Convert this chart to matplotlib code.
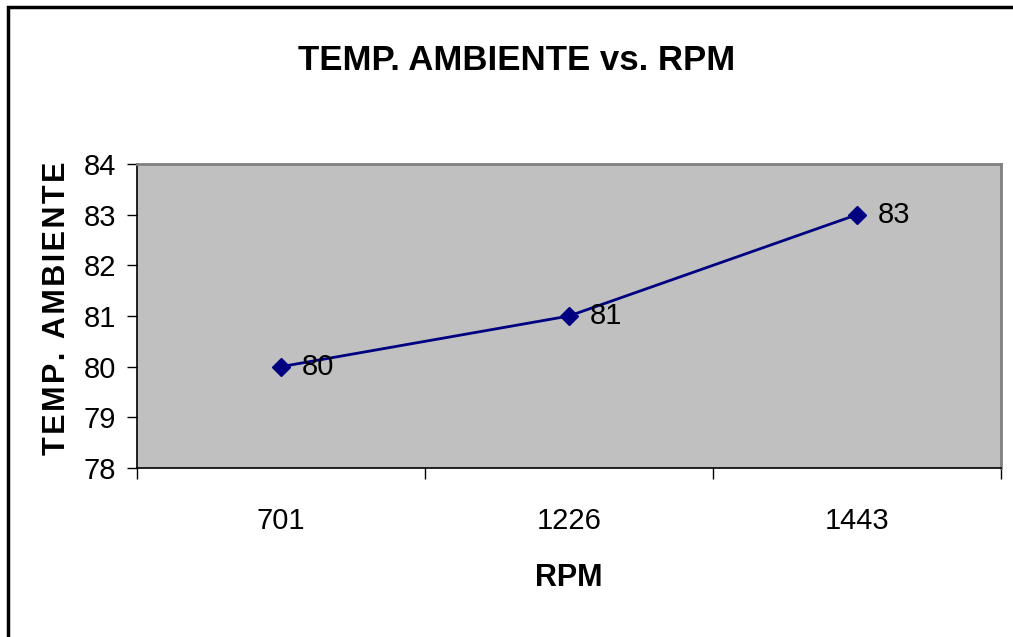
import matplotlib.pyplot as plt
from matplotlib.patches import Rectangle

# datos
rpm = ['701', '1226', '1443']
temp_ambiente = [80, 81, 83]

plt.rcParams['font.family'] = ['Liberation Sans', 'DejaVu Sans']

fig = plt.figure(figsize=(10.13, 6.37), dpi=100)
ax = fig.add_axes([137 / 1013, 1 - 468 / 637, (1001 - 137) / 1013, (468 - 164) / 637])
ax.set_facecolor('#C0C0C0')

x = list(range(len(rpm)))
ax.plot(x, temp_ambiente, color='#000080', lw=2, marker='D', ms=9, mfc='#000080', mec='#000080')
for xi, v in zip(x, temp_ambiente):
    ax.annotate(str(v), (xi, v), xytext=(15, 0), textcoords='offset points',
                ha='left', va='center', fontsize=21)

ax.set_xlim(-0.5, len(rpm) - 0.5)
ax.set_ylim(78, 84)
ax.set_yticks(range(78, 85))
ax.tick_params(axis='y', direction='out', length=7, width=1, labelsize=21, pad=8)

# marcas del eje x entre categorias
ax.set_xticks(x)
ax.set_xticklabels(rpm)
ax.set_xticks([i - 0.5 for i in range(len(rpm) + 1)], minor=True)
ax.tick_params(axis='x', which='major', length=0, labelsize=21, pad=28)
ax.tick_params(axis='x', which='minor', direction='out', length=8, width=1)

for s in ['top', 'right']:
    ax.spines[s].set_color('#808080')
    ax.spines[s].set_linewidth(2)
for s in ['left', 'bottom']:
    ax.spines[s].set_color('black')
    ax.spines[s].set_linewidth(1.2)

fig.text(517 / 1013, 1 - 60 / 637, 'TEMP. AMBIENTE vs. RPM', ha='center', va='center',
         fontsize=25, fontweight='bold')
fig.text(569 / 1013, 1 - 578 / 637, 'RPM', ha='center', va='center',
         fontsize=22, fontweight='bold')
ylab = '\u200a'.join('TEMP. AMBIENTE')
fig.text(57 / 1013, 1 - 308 / 637, ylab, ha='center', va='center',
         rotation=90, fontsize=22, fontweight='bold')

# marco del grafico
fig.patches.append(Rectangle((8 / 1013, -0.1), 1.2, 1 - 7 / 637 + 0.1, transform=fig.transFigure,
                             fill=False, edgecolor='black', lw=2.5))

fig.savefig('out.png', dpi=100)
